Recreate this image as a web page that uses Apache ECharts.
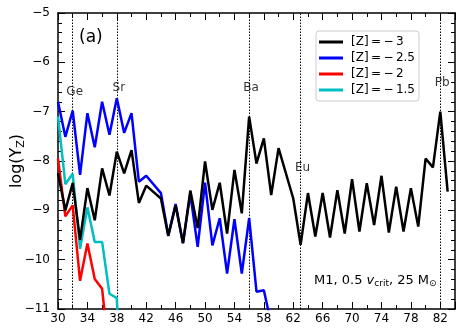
<!DOCTYPE html>
<html>
<head>
<meta charset="utf-8">
<script src="https://cdn.jsdelivr.net/npm/echarts@6/dist/echarts.min.js"></script>
<style>
  html, body { margin: 0; padding: 0; background: #fff; }
  #chart { width: 463px; height: 331px; }
</style>
</head>
<body>
<div id="chart"></div>
<script>
// atomic number Z and log(Y_Z) per metallicity
const zM3 = [30, 31, 32, 33, 34, 35, 36, 37, 38, 39, 40, 41, 42, 44, 45, 46, 47, 48, 49, 50,
  51, 52, 53, 54, 55, 56, 57, 58, 59, 60, 62, 63, 64, 65, 66, 67, 68, 69, 70,
  71, 72, 73, 74, 75, 76, 77, 78, 79, 80, 81, 82, 83]
const yM3 = [-8.25, -9.0, -8.45, -9.6, -8.55, -9.2, -8.15, -8.7, -7.81, -8.25, -7.78, -8.85, -8.5, -8.76, -9.52, -8.9, -9.67, -8.6, -9.36, -8.01,
  -8.99, -8.44, -9.47, -8.18, -9.06, -7.10, -8.05, -7.54, -8.69, -7.74, -8.76, -9.70, -8.65, -9.53, -8.65, -9.55, -8.59, -9.47, -8.37,
  -9.43, -8.45, -9.30, -8.30, -9.45, -8.52, -9.43, -8.55, -9.33, -7.95, -8.13, -7.00, -8.62]

const zM25 = [30, 31, 32, 33, 34, 35, 36, 37, 38, 39, 40, 41, 42, 44, 45, 46, 47, 48, 49, 50,
  51, 52, 53, 54, 55, 56, 57, 58, 59]
const yM25 = [-6.80, -7.51, -6.98, -8.28, -7.03, -7.72, -6.80, -7.47, -6.73, -7.43, -7.03, -8.42, -8.30, -8.65, -9.51, -8.87, -9.66, -8.67, -9.74, -8.44,
  -9.71, -9.16, -10.28, -9.18, -10.28, -9.16, -10.65, -10.62, -11.3]

const zM2 = [30, 31, 32, 33, 34, 35, 36, 37]
const yM2 = [-7.95, -9.12, -8.9, -10.43, -9.67, -10.39, -10.59, -12.0]

const zM15 = [30, 31, 32, 33, 34, 35, 36, 37, 38, 39]
const yM15 = [-7.1, -8.47, -8.26, -9.78, -8.94, -9.64, -9.64, -10.69, -10.78, -14.0]

const seriesNames = ['[Z]\u2009=\u2009\u2212\u20093', '[Z]\u2009=\u2009\u2212\u20092.5', '[Z]\u2009=\u2009\u2212\u20092', '[Z]\u2009=\u2009\u2212\u20091.5']
const seriesColors = ['#000000', '#0000ff', '#ff0000', '#00bfbf']

// marked elements
const elemNames = ['Ge', 'Sr', 'Ba', 'Eu', 'Pb']
const elemZ = [32, 38, 56, 63, 82]
const elemLabelY = [-6.6, -6.52, -6.52, -8.14, -6.42] // where the name sits

const font = 'DejaVu Sans'

function pairs (xs, ys) {
  return xs.map((x, i) => [x, ys[i]])
}

let chart = echarts.init(document.getElementById('chart'), null, { renderer: 'canvas' })

const tickLine = { lineStyle: { color: '#000', width: 1 } }
// labelled every 4 starting at 30, ticks every 2
function xAx (pos, interval, len, labels, line) {
  return {
    type: 'value',
    position: pos,
    min: 30,
    max: 84,
    interval: interval,
    splitLine: { show: false },
    axisLine: { show: line, onZero: false, lineStyle: { color: '#000', width: 1.5 } },
    axisTick: Object.assign({ show: true, inside: true, length: len }, tickLine),
    axisLabel: {
      show: labels,
      showMaxLabel: false,
      margin: 4,
      color: '#000',
      fontFamily: font,
      fontSize: 12,
      formatter: v => ((v - 30) % 4 === 0 && v < 84 ? String(v) : '')
    }
  }
}
function yAx (pos, labels) {
  return {
    type: 'value',
    position: pos,
    min: -11,
    max: -5,
    interval: 1,
    splitLine: { show: false },
    axisLine: { show: true, onZero: false, lineStyle: { color: '#000', width: 1.5 } },
    axisTick: Object.assign({ show: true, inside: true, length: 7 }, tickLine),
    minorTick: Object.assign({ show: true, splitNumber: 5, length: 4 }, tickLine),
    axisLabel: {
      show: labels,
      margin: 8,
      color: '#000',
      fontFamily: font,
      fontSize: 12,
      formatter: v => (v < 0 ? '\u2212' : '') + Math.abs(v)
    }
  }
}

let yName = Object.assign(yAx('left', true), {
  name: '{a|log(Y}{s|Z}{a|)}',
  nameLocation: 'middle',
  nameGap: 31,
  nameRotate: 90,
  nameMoveOverlap: false,
  nameTextStyle: {
    rich: {
      a: { fontFamily: font, fontSize: 16, color: '#000' },
      s: { fontFamily: font, fontSize: 11, color: '#000', verticalAlign: 'bottom', padding: [10, 0, 0, 0] }
    }
  }
})

let lineSeries = [pairs(zM3, yM3), pairs(zM25, yM25), pairs(zM2, yM2), pairs(zM15, yM15)].map((d, i) => ({
  name: seriesNames[i],
  type: 'line',
  data: d,
  symbol: 'none',
  clip: true,
  lineStyle: { color: seriesColors[i], width: 2.5 },
  itemStyle: { color: seriesColors[i] },
  z: 10 - i
}))

let option = {
  animation: false,
  backgroundColor: '#fff',
  grid: { left: 58, right: 8, top: 13, bottom: 22, containLabel: false, outerBoundsMode: 'none' },
  xAxis: [
    xAx('bottom', 4, 7, false, true),
    xAx('bottom', 2, 4, true, false),
    xAx('top', 4, 7, false, true),
    xAx('top', 2, 4, false, false)
  ],
  yAxis: [yName, yAx('right', false)],
  legend: {
    data: seriesNames,
    orient: 'vertical',
    left: 316,
    top: 31,
    padding: [5, 4, 5, 3],
    itemGap: 4,
    itemWidth: 24,
    itemHeight: 3,
    icon: 'rect',
    borderColor: '#cccccc',
    borderWidth: 1,
    borderRadius: 3,
    backgroundColor: '#fff',
    textStyle: { fontFamily: font, fontSize: 12, color: '#000', padding: [0, 0, 0, 3] }
  },
  graphic: [
    {
      type: 'text',
      left: 79,
      top: 29,
      style: { text: '(a)', fontFamily: font, fontSize: 17, fill: '#000' }
    },
    {
      type: 'text',
      left: 314,
      top: 274,
      style: {
        text: '{a|M1, 0.5 }{i|v}{s|crit}{a|, 25 M}{s|\u2299}',
        rich: {
          a: { fontFamily: font, fontSize: 13, fill: '#000' },
          i: { fontFamily: font, fontSize: 13, fontStyle: 'italic', fill: '#000' },
          s: { fontFamily: font, fontSize: 9, fill: '#000', verticalAlign: 'bottom', padding: [6, 0, 0, 0] }
        }
      }
    }
  ],
  series: lineSeries.concat([{
    name: 'elements',
    type: 'scatter',
    symbolSize: 0,
    data: elemZ.map((z, i) => ({ name: elemNames[i], value: [z, elemLabelY[i]] })),
    label: {
      show: true,
      position: 'inside',
      offset: [2, 0],
      formatter: p => p.name,
      fontFamily: font,
      fontSize: 12,
      color: '#000'
    },
    markLine: {
      silent: true,
      symbol: 'none',
      label: { show: false },
      lineStyle: { color: '#000', width: 1, type: [1.5, 1.5] },
      data: elemZ.map(z => ({ xAxis: z }))
    },
    z: 1
  }])
}
chart.setOption(option)
window.addEventListener('resize', function () {
  chart.resize()
})
</script>
</body>
</html>
